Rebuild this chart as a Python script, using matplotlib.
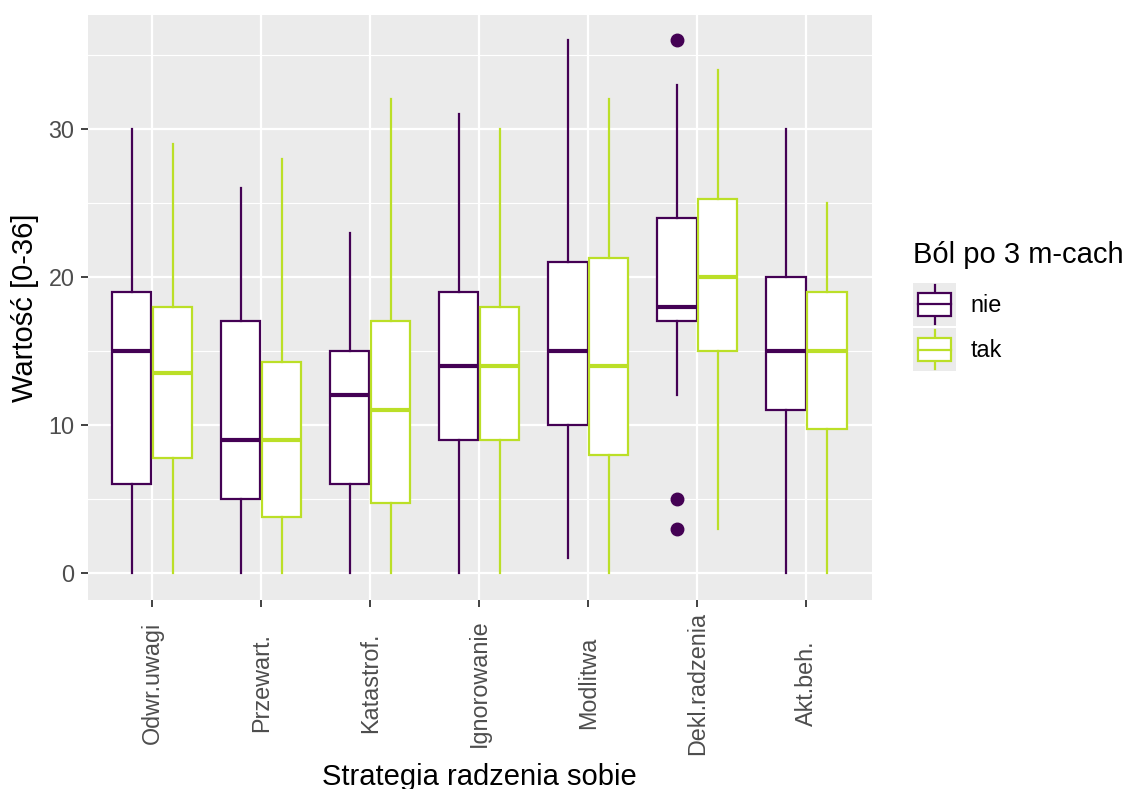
import matplotlib
matplotlib.use("Agg")
import matplotlib.pyplot as plt
from matplotlib.legend_handler import HandlerBase
from matplotlib.patches import Rectangle
from matplotlib.lines import Line2D

plt.rcParams["font.family"] = ["Liberation Sans", "DejaVu Sans"]

categories = ["Odwr.uwagi", "Przewart.", "Katastrof.", "Ignorowanie",
              "Modlitwa", "Dekl.radzenia", "Akt.beh."]
groups = ["nie", "tak"]

# lower whisker, q1, median, q3, upper whisker
nie_lo = [0, 0, 0, 0, 1, 12, 0]
nie_q1 = [6, 5, 6, 9, 10, 17, 11]
nie_med = [15, 9, 12, 14, 15, 18, 15]
nie_q3 = [19, 17, 15, 19, 21, 24, 20]
nie_hi = [30, 26, 23, 31, 36, 33, 30]
nie_fliers = [[], [], [], [], [], [36, 5, 3], []]

tak_lo = [0, 0, 0, 0, 0, 3, 0]
tak_q1 = [7.75, 3.75, 4.75, 9, 8, 15, 9.75]
tak_med = [13.5, 9, 11, 14, 14, 20, 15]
tak_q3 = [18, 14.25, 17, 18, 21.25, 25.25, 19]
tak_hi = [29, 28, 32, 30, 32, 34, 25]
tak_fliers = [[], [], [], [], [], [], []]

colors = {"nie": "#440154", "tak": "#BBDF27"}


def make_stats(lo, q1, med, q3, hi, fl):
    return [dict(whislo=a, q1=b, med=c, q3=d, whishi=e, fliers=f)
            for a, b, c, d, e, f in zip(lo, q1, med, q3, hi, fl)]


data = {
    "nie": make_stats(nie_lo, nie_q1, nie_med, nie_q3, nie_hi, nie_fliers),
    "tak": make_stats(tak_lo, tak_q1, tak_med, tak_q3, tak_hi, tak_fliers),
}

fig = plt.figure(figsize=(11.25, 7.89), dpi=100)
ax = fig.add_axes([0.078, 0.24, 0.697, 0.741])
ax.set_facecolor("#EBEBEB")

lw = 1.6
for i, g in enumerate(groups):
    c = colors[g]
    pos = [k + 1 + (-0.1875 if i == 0 else 0.1875) for k in range(len(categories))]
    ax.bxp(data[g], positions=pos, widths=0.36, patch_artist=True, showcaps=False,
           boxprops=dict(facecolor="white", edgecolor=c, linewidth=lw),
           whiskerprops=dict(color=c, linewidth=lw),
           medianprops=dict(color=c, linewidth=3.0, solid_capstyle="butt"),
           flierprops=dict(marker="o", markerfacecolor=c, markeredgecolor=c,
                           markersize=9, linestyle="none"),
           zorder=3)

ax.set_xlim(0.41, 7.6)
ax.set_ylim(-1.8, 37.7)
ax.set_xticks(range(1, len(categories) + 1))
ax.set_xticklabels(categories, rotation=90, va="center", ha="center")
ax.set_yticks([0, 10, 20, 30])
ax.set_yticks([5, 15, 25, 35], minor=True)
ax.grid(which="major", color="white", linewidth=1.6, zorder=0)
ax.grid(which="minor", axis="y", color="white", linewidth=0.8, zorder=0)
ax.set_axisbelow(True)
for s in ax.spines.values():
    s.set_visible(False)
ax.tick_params(which="major", length=5, width=1.3, color="#333333",
               labelsize=16.8, labelcolor="#4D4D4D")
ax.tick_params(axis="y", pad=4.5)
ax.tick_params(axis="x", pad=55)
ax.tick_params(which="minor", length=0)
ax.set_xlabel("Strategia radzenia sobie", fontsize=21, va="center")
ax.set_ylabel("Wartość [0-36]", fontsize=21)
ax.xaxis.set_label_coords(0.5, -0.303)
ax.yaxis.set_label_coords(-0.062, 0.5)


class BoxHandler(HandlerBase):
    def create_artists(self, legend, orig_handle, xdescent, ydescent,
                       width, height, fontsize, trans):
        c = orig_handle.get_color()
        bg = Rectangle((-xdescent, -ydescent), width, height,
                       facecolor="#EBEBEB", edgecolor="none", transform=trans)
        bx = Rectangle((-xdescent + width * 0.12, -ydescent + height * 0.24),
                       width * 0.76, height * 0.52, facecolor="white",
                       edgecolor=c, linewidth=lw, transform=trans)
        cx = -xdescent + width / 2
        w1 = Line2D([cx, cx], [-ydescent + height * 0.05, -ydescent + height * 0.24],
                    color=c, linewidth=lw, transform=trans)
        w2 = Line2D([cx, cx], [-ydescent + height * 0.76, -ydescent + height * 0.95],
                    color=c, linewidth=lw, transform=trans)
        md = Line2D([-xdescent + width * 0.12, -xdescent + width * 0.88],
                    [-ydescent + height * 0.5] * 2, color=c, linewidth=lw,
                    transform=trans)
        return [bg, w1, w2, bx, md]


fig.text(913 / 1125, 1 - 263 / 789, "Ból po 3 m-cach", fontsize=21,
         ha="left", va="baseline")
handles = [Line2D([], [], color=colors[g]) for g in groups]
leg = fig.legend(handles, groups, loc="upper left",
                 bbox_to_anchor=(913 / 1125, 1 - 283 / 789),
                 fontsize=16.8,
                 frameon=False, handler_map={Line2D: BoxHandler()},
                 handlelength=1.85, handleheight=2.45, handletextpad=0.6,
                 labelspacing=0.1, borderpad=0, borderaxespad=0)

fig.savefig("out.png", dpi=100)
